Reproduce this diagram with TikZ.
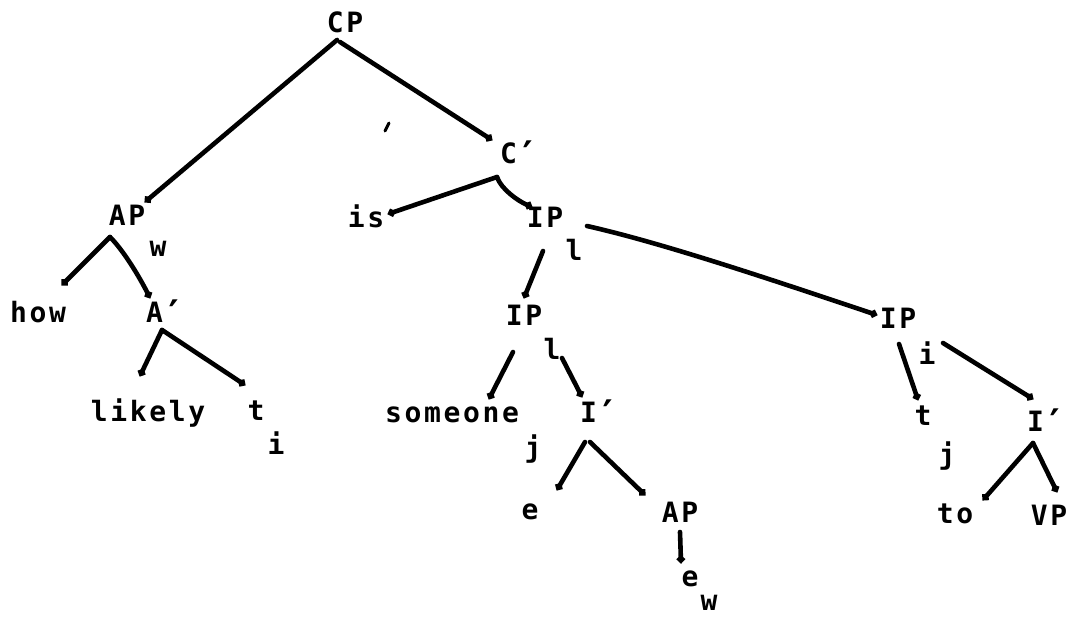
\documentclass[tikz,border=0pt]{standalone}
\usepackage{fontspec}
\usetikzlibrary{calc,arrows.meta}
\newfontfamily\dotfont{DejaVu Sans Mono}[LetterSpace=9.5]
\newcommand{\bigprime}{\smash{\raisebox{-5pt}{\fontsize{38}{38}\selectfont ′}}}
\tikzset{
  lbl/.style={inner sep=0pt, font=\dotfont\bfseries\fontsize{28}{30}\selectfont},
  sub/.style={inner sep=0pt, font=\dotfont\bfseries\fontsize{28}{30}\selectfont},
  edge/.style={line width=4.6pt, line cap=round, line join=round, -{Circle[length=7.5pt]}},
}
\begin{document}
\begin{tikzpicture}[x=1pt,y=-1pt]
\useasboundingbox (0,0) rectangle (1069,617);
% nodes
\node[lbl] (cp) at (345,22) {CP};
\node[lbl] (cb) at (520,153) {C\bigprime};
\node[lbl] (ap1) at (127,215) {AP};
\node[sub] (w1) at (158,249) {w};
\node[lbl] (is) at (366,216) {is};
\node[lbl] (ip1) at (545,217) {IP};
\node[sub] (l1) at (574,250) {l};
\node[lbl] (how) at (38,312) {how};
\node[lbl] (ab) at (166,312) {A\bigprime};
\node[lbl] (ip2) at (524,315) {IP};
\node[sub] (l2) at (552,349) {l};
\node[lbl] (ip3) at (898,318) {IP};
\node[sub] (i3) at (927,353) {i};
\node[lbl] (likely) at (148,413) {likely};
\node[lbl] (t1) at (256,411) {t};
\node[sub] (i1) at (276,443) {i};
\node[lbl] (someone) at (452,415) {someone};
\node[sub] (j1) at (533,449) {j};
\node[lbl] (ib1) at (600,412) {I\bigprime};
\node[lbl] (t2) at (923,416) {t};
\node[sub] (j2) at (947,456) {j};
\node[lbl] (ib2) at (1047,421) {I\bigprime};
\node[lbl] (e1) at (530,512) {e};
\node[lbl] (ap2) at (680,512) {AP};
\node[lbl] (to) at (955,514) {to};
\node[lbl] (vp) at (1049,515) {VP};
\node[lbl] (e2) at (690,579) {e};
\node[sub] (w2) at (709,603) {w};
% stray mark
\draw[line width=3pt, line cap=round] (385,131) -- (389,123);
% connectors
\draw[edge] ($(cp)+(-8,18)$) -- ($(ap1)+(18,-13)$);
\draw[edge] ($(cp)+(-5,20)$) -- ($(cb)+(-28,-13)$);
\draw[edge] ($(cb)+(-23,24)$) -- ($(is)+(22,-2)$);
\draw[edge] ($(cb)+(-23,24)$) .. controls +(4,12) and +(-14,-6) .. ($(ip1)+(-13,-10)$);
\draw[edge] ($(ap1)+(-17,22)$) -- ($(how)+(24,-27)$);
\draw[edge] ($(ap1)+(-17,22)$) .. controls +(14,14) and +(-10,-20) .. ($(ab)+(-16,-14)$);
\draw[edge] ($(ip1)+(-2,34)$) -- ($(ip2)+(0,-17)$);
\draw[edge] ($(ip1)+(42,9)$) .. controls +(80,18) and +(-90,-30) .. ($(ip3)+(-21,-3)$);
\draw[edge] ($(ab)+(-4,18)$) -- ($(likely)+(-8,-37)$);
\draw[edge] ($(ab)+(-4,18)$) -- ($(t1)+(-11,-26)$);
\draw[edge] ($(ip2)+(-11,37)$) -- ($(someone)+(37,-16)$);
\draw[edge] ($(ip2)+(38,43)$) -- ($(ib1)+(-18,-15)$);
\draw[edge] ($(ip3)+(1,26)$) -- ($(t2)+(-5,-16)$);
\draw[edge] ($(ip3)+(45,25)$) -- ($(ib2)+(-14,-22)$);
\draw[edge] ($(ib2)+(-14,22)$) -- ($(to)+(28,-14)$);
\draw[edge] ($(ib2)+(-14,22)$) -- ($(vp)+(8,-23)$);
\draw[edge] ($(ib1)+(-15,30)$) -- ($(e1)+(27,-22)$);
\draw[edge] ($(ib1)+(-10,30)$) -- ($(ap2)+(-35,-17)$);
\draw[edge] ($(ap2)+(0,20)$) -- ($(e2)+(-9,-16)$);
\end{tikzpicture}
\end{document}
